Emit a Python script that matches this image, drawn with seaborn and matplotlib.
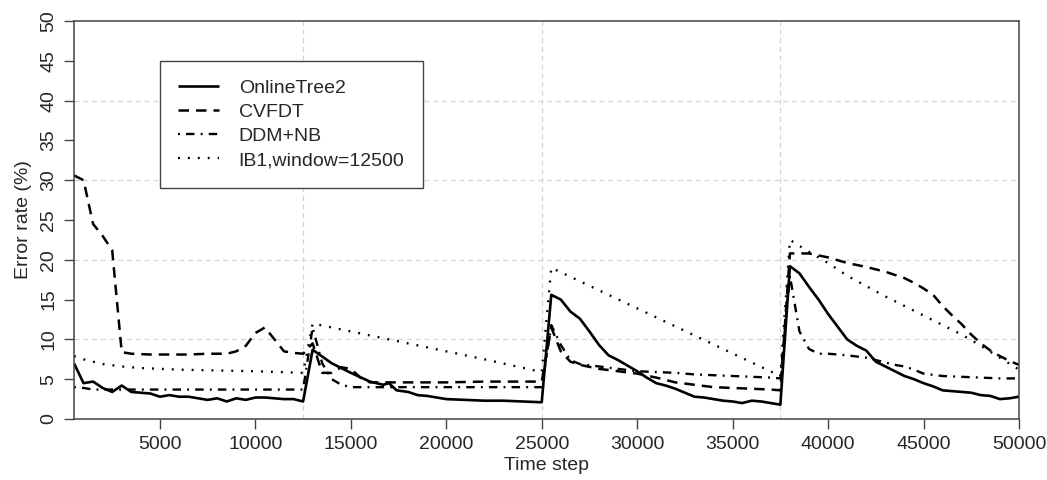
import numpy as np
import pandas as pd
import matplotlib
matplotlib.use("Agg")
import matplotlib.pyplot as plt
import seaborn as sns

# ---------------- data ----------------
ot2_t = [500, 1000, 1500, 2000, 2500, 3000, 3500, 4000, 4500, 5000, 5500, 6000, 6500,
         7000, 7500, 8000, 8500, 9000, 9500, 10000, 10500, 11000, 11500, 12000, 12500,
         13000, 14000, 15000, 16000, 16700, 17000, 17400, 18000, 18500, 19000, 20000,
         21000, 22000, 23000, 24000, 25000,
         25500, 26000, 26500, 27000, 27500, 28000, 28500, 29000, 29500, 30000, 30500,
         31000, 31500, 32000, 32500, 33000, 33500, 34000, 34500, 35000, 35500, 36000,
         36500, 37000, 37500,
         38000, 38500, 39000, 39500, 40000, 40500, 41000, 41500, 42000, 42500, 43000,
         43500, 44000, 44500, 45000, 45500, 46000, 46500, 47000, 47500, 48000, 48500,
         49000, 49500, 50000]
ot2_v = [7.0, 4.5, 4.7, 3.9, 3.4, 4.2, 3.4, 3.3, 3.2, 2.8, 3.0, 2.8, 2.8,
         2.6, 2.4, 2.6, 2.2, 2.6, 2.4, 2.7, 2.7, 2.6, 2.5, 2.5, 2.2,
         8.7, 7.0, 5.8, 4.7, 4.3, 4.5, 3.6, 3.4, 3.0, 2.9, 2.5,
         2.4, 2.3, 2.3, 2.2, 2.1,
         15.6, 15.0, 13.5, 12.6, 11.0, 9.3, 8.0, 7.4, 6.7, 6.0, 5.2,
         4.5, 4.2, 3.8, 3.3, 2.8, 2.7, 2.5, 2.3, 2.2, 2.0, 2.3,
         2.2, 2.0, 1.8,
         19.2, 18.3, 16.6, 15.0, 13.2, 11.6, 10.0, 9.2, 8.6, 7.2, 6.6,
         6.0, 5.4, 5.0, 4.5, 4.1, 3.6, 3.5, 3.4, 3.3, 3.0, 2.9,
         2.5, 2.6, 2.8]

cvfdt_t = [500, 1000, 1500, 2000, 2500, 3000, 3500, 4500, 5500, 6500, 7500, 8500, 9000,
           9500, 10000, 10500, 11000, 11500, 12000, 12500,
           13000, 13500, 14000, 14500, 15000, 15500, 16000, 18000, 20000, 22000, 25000,
           25500, 26000, 26500, 27000, 28000, 29000, 30000, 31000, 32000, 33000, 34000,
           35000, 36000, 37000, 37500,
           38000, 39000, 40000, 41000, 42000, 43000, 44000, 44500, 45000, 45500, 46000,
           46500, 47000, 47500, 48000, 48500, 49000, 49500, 50000]
cvfdt_v = [30.6, 30.0, 24.5, 23.0, 21.2, 8.4, 8.2, 8.1, 8.1, 8.1, 8.2, 8.2, 8.5,
           9.2, 10.8, 11.5, 10.0, 8.5, 8.3, 8.2,
           9.5, 5.8, 5.8, 6.5, 6.3, 5.2, 4.6, 4.6, 4.6, 4.7, 4.7,
           11.5, 8.5, 7.2, 6.8, 6.3, 6.0, 5.7, 5.2, 4.6, 4.3, 4.0,
           3.9, 3.8, 3.7, 3.6,
           20.8, 20.8, 20.3, 19.6, 19.1, 18.5, 17.7, 17.1, 16.4, 15.6, 14.2,
           13.0, 11.9, 10.6, 9.5, 8.6, 7.9, 7.3, 6.8]

ddm_t = [500, 1000, 1500, 12500, 13000, 13500, 14000, 14500, 15000, 25000,
         25500, 26000, 26500, 27000, 28000, 29000, 30000, 31000, 32000, 33000, 34000,
         35000, 36000, 37000, 37500,
         38000, 38500, 39000, 39500, 40000, 41000, 42000, 43000, 43500, 44000, 44500,
         45000, 46000, 47000, 48000, 49000, 50000]
ddm_v = [4.0, 3.9, 3.7, 3.7, 11.5, 7.0, 5.0, 4.3, 4.0, 4.0,
         11.8, 9.3, 7.4, 6.9, 6.6, 6.3, 6.0, 5.9, 5.8, 5.6, 5.5,
         5.4, 5.3, 5.2, 5.1,
         18.0, 11.0, 8.8, 8.2, 8.2, 8.0, 7.7, 7.1, 6.8, 6.6, 6.2,
         5.7, 5.4, 5.3, 5.2, 5.1, 5.1]

ib1_t = [500, 1000, 1500, 2000, 3000, 4000, 5000, 6000, 8000, 10000, 12500,
         13000, 16000, 19000, 22000, 25000,
         25500, 28500, 31500, 34500, 37500,
         38000, 39000, 40000, 41000, 42000, 43000, 44000, 45000, 46000, 47000, 48000,
         49000, 50000]
ib1_v = [7.9, 7.5, 7.2, 6.9, 6.6, 6.4, 6.3, 6.2, 6.1, 6.0, 5.8,
         12.0, 10.5, 9.0, 7.5, 5.9,
         19.0, 15.6, 12.2, 8.8, 5.4,
         22.5, 21.0, 19.6, 18.0, 16.7, 15.4, 14.2, 13.0, 11.8, 10.6, 9.2,
         7.7, 6.2]

series_names = ["OnlineTree2", "CVFDT", "DDM+NB", "IB1,window=12500"]
x_ticks = [5000, 10000, 15000, 20000, 25000, 30000, 35000, 40000, 45000, 50000]
y_ticks = [0, 5, 10, 15, 20, 25, 30, 35, 40, 45, 50]
x_grid = [12500, 25000, 37500]
y_grid = [10, 20, 30, 40]

# ---------------- plot ----------------
sns.set_style("white")
plt.rcParams['font.family'] = ['Liberation Sans', 'DejaVu Sans']

fig = plt.figure(figsize=(10.47, 4.8), dpi=100)
ax = fig.add_axes([74 / 1047, 1 - 419 / 480, 945 / 1047, 398 / 480])

grid_kw = dict(color="#d4d4d4", lw=0.9, ls=(0, (4, 3)), zorder=0)
for gx in x_grid:
    ax.axvline(gx, **grid_kw)
for gy in y_grid:
    ax.axhline(gy, **grid_kw)

styles = {
    "OnlineTree2": dict(dashes=None, lw=1.9),
    "CVFDT": dict(dashes=(4.2, 2.8), lw=1.8),
    "DDM+NB": dict(dashes=(0.8, 2.6, 3.6, 2.6), lw=1.7),
    "IB1,window=12500": dict(dashes=(0.8, 3.4), lw=1.7),
}
data = {
    "OnlineTree2": (ot2_t, ot2_v),
    "CVFDT": (cvfdt_t, cvfdt_v),
    "DDM+NB": (ddm_t, ddm_v),
    "IB1,window=12500": (ib1_t, ib1_v),
}
for name in series_names:
    t, v = data[name]
    df = pd.DataFrame({"t": t, "v": v})
    st = styles[name]
    sns.lineplot(data=df, x="t", y="v", ax=ax, color="black", lw=st["lw"],
                 label=name, estimator=None, sort=False)
    ln = ax.lines[-1]
    if st["dashes"] is not None:
        ln.set_dashes(st["dashes"])
    ln.set_solid_capstyle("butt")

ax.set_xlim(500, 50000)
ax.set_ylim(0, 50)
ax.set_xticks(x_ticks)
ax.set_yticks(y_ticks)
ax.set_xticklabels([str(x) for x in x_ticks], fontsize=14)
ax.set_yticklabels([str(y) for y in y_ticks], fontsize=14, rotation=90, va="center")
ax.tick_params(axis="both", direction="out", length=7, width=1, color="#444444",
               left=True, bottom=True, pad=5)
ax.set_xlabel("Time step", fontsize=14, labelpad=3)
ax.set_ylabel("Error rate (%)", fontsize=14, labelpad=6)
for sp in ax.spines.values():
    sp.set_visible(True)
    sp.set_color("#444444")
    sp.set_linewidth(1.1)

leg = ax.legend(loc="upper left", bbox_to_anchor=(86 / 945, (419 - 61) / 398),
                borderaxespad=0, fontsize=14, frameon=True, fancybox=False,
                handlelength=2.1, handletextpad=1.0, labelspacing=0.33,
                borderpad=0.95, edgecolor="#444444", framealpha=1)
leg.get_frame().set_linewidth(1.0)

fig.savefig("out.png", dpi=100)
